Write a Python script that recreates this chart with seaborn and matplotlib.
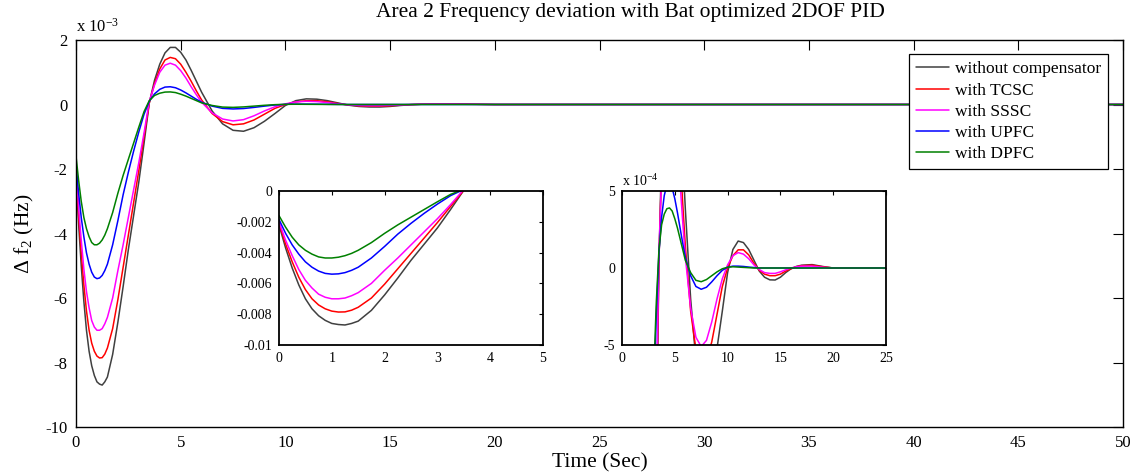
import numpy as np
import pandas as pd
import matplotlib
matplotlib.use("Agg")
import matplotlib.pyplot as plt
import seaborn as sns

# ---------------- data (frequency deviation in units of 1e-3 Hz) ----------------
time_s = [0, 0.125, 0.25, 0.375, 0.5, 0.625, 0.75, 0.875, 1.0, 1.125, 1.25, 1.375, 1.5,
          1.75, 2.0, 2.25, 2.5, 2.75, 3.0, 3.25, 3.5,
          3.75, 4.0, 4.25, 4.5, 4.75, 5.0, 5.25, 5.5, 5.75, 6.0,
          6.5, 7.0, 7.5, 8.0, 8.5, 9.0, 9.5, 10.0, 10.5, 11.0, 11.5, 12.0, 12.5, 13.0,
          13.5, 14.0, 14.5, 15.0, 15.5, 16.0, 16.5,
          17.0, 18.0, 19.0, 20.0, 25.0, 30.0, 40.0, 50.0]

without_comp = [-2.2, -3.7, -5.0, -6.1, -7.0, -7.65, -8.1, -8.4, -8.6, -8.67, -8.7, -8.6, -8.45,
                -7.75, -6.75, -5.65, -4.5, -3.45, -2.4, -1.2, 0.05,
                0.75, 1.25, 1.6, 1.77, 1.77, 1.62, 1.38, 1.06, 0.72, 0.38,
                -0.2, -0.6, -0.8, -0.83, -0.72, -0.52, -0.28, -0.03, 0.12, 0.175, 0.165, 0.12, 0.05, -0.02,
                -0.06, -0.077, -0.078, -0.06, -0.03, -0.005, 0.01,
                0.018, 0.022, 0.01, 0.0, 0.0, 0.0, 0.0, 0.0]

with_tcsc = [-2.1, -3.45, -4.6, -5.6, -6.4, -7.0, -7.4, -7.65, -7.8, -7.86, -7.85, -7.74, -7.55,
             -6.95, -6.05, -5.05, -4.05, -3.05, -2.05, -1.0, 0.05,
             0.65, 1.1, 1.38, 1.46, 1.42, 1.25, 1.0, 0.72, 0.42, 0.14,
             -0.28, -0.53, -0.63, -0.6, -0.48, -0.3, -0.12, 0.0, 0.08, 0.118, 0.118, 0.085, 0.03, -0.015,
             -0.04, -0.05, -0.05, -0.04, -0.02, -0.005, 0.008,
             0.015, 0.018, 0.008, 0.0, 0.0, 0.0, 0.0, 0.0]

with_sssc = [-2.0, -3.2, -4.2, -5.1, -5.8, -6.3, -6.7, -6.9, -7.0, -7.0, -6.95, -6.8, -6.6,
             -6.0, -5.15, -4.35, -3.5, -2.65, -1.8, -0.88, 0.1,
             0.6, 1.0, 1.22, 1.28, 1.22, 1.05, 0.82, 0.55, 0.3, 0.07,
             -0.26, -0.45, -0.51, -0.47, -0.35, -0.2, -0.07, 0.02, 0.08, 0.1, 0.09, 0.06, 0.02, -0.01,
             -0.03, -0.035, -0.035, -0.025, -0.012, 0.0, 0.008,
             0.012, 0.012, 0.005, 0.0, 0.0, 0.0, 0.0, 0.0]

with_upfc = [-1.85, -2.75, -3.5, -4.1, -4.6, -4.95, -5.2, -5.35, -5.4, -5.38, -5.3, -5.15, -4.95,
             -4.35, -3.6, -2.8, -2.1, -1.45, -0.85, -0.3, 0.1,
             0.33, 0.47, 0.54, 0.55, 0.52, 0.45, 0.36, 0.26, 0.16, 0.07,
             -0.05, -0.12, -0.138, -0.125, -0.09, -0.05, -0.015, 0.005, 0.012, 0.012, 0.01, 0.006, 0.003, 0.0,
             0.0, 0.0, 0.0, 0.0, 0.0, 0.0, 0.0,
             0.0, 0.0, 0.0, 0.0, 0.0, 0.0, 0.0, 0.0]

with_dpfc = [-1.6, -2.35, -3.0, -3.5, -3.85, -4.1, -4.28, -4.35, -4.35, -4.3, -4.2, -4.05, -3.85,
             -3.35, -2.75, -2.2, -1.7, -1.2, -0.7, -0.22, 0.12,
             0.28, 0.35, 0.385, 0.39, 0.37, 0.32, 0.26, 0.19, 0.12, 0.05,
             -0.03, -0.08, -0.089, -0.075, -0.05, -0.025, -0.005, 0.005, 0.008, 0.006, 0.004, 0.002, 0.0, 0.0,
             0.0, 0.0, 0.0, 0.0, 0.0, 0.0, 0.0,
             0.0, 0.0, 0.0, 0.0, 0.0, 0.0, 0.0, 0.0]

series_names = ["without compensator", "with TCSC", "with SSSC", "with UPFC", "with DPFC"]
series_colors = ["#404040", "#ff0000", "#ff00ff", "#0000ff", "#008000"]

main_xticks = [0, 5, 10, 15, 20, 25, 30, 35, 40, 45, 50]
main_yticks = [-10, -8, -6, -4, -2, 0, 2]
inset1_xticks = [0, 1, 2, 3, 4, 5]
inset1_yticks = [-0.01, -0.008, -0.006, -0.004, -0.002, 0]
inset1_ylabels = ["-0.01", "-0.008", "-0.006", "-0.004", "-0.002", "0"]
inset2_xticks = [0, 5, 10, 15, 20, 25]
inset2_yticks = [-5, 0, 5]

# ---------------- long-form table ----------------
frames = []
for name, vals in zip(series_names, [without_comp, with_tcsc, with_sssc, with_upfc, with_dpfc]):
    frames.append(pd.DataFrame({"t": time_s, "v": vals, "series": name}))
df = pd.concat(frames, ignore_index=True)
df["v_hz"] = df["v"] * 1e-3      # absolute Hz (inset 1)
df["v_e4"] = df["v"] * 10.0      # units of 1e-4 (inset 2)

# ---------------- style ----------------
sns.set_theme(style="white")
plt.rcParams["font.family"] = ["Liberation Serif", "DejaVu Serif"]
plt.rcParams["mathtext.fontset"] = "custom"
plt.rcParams["mathtext.rm"] = "Liberation Serif"
plt.rcParams["mathtext.it"] = "Liberation Serif:italic"
plt.rcParams["mathtext.default"] = "regular"
plt.rcParams["axes.unicode_minus"] = False
plt.rcParams["text.color"] = "black"
plt.rcParams["axes.labelcolor"] = "black"
plt.rcParams["xtick.color"] = "black"
plt.rcParams["ytick.color"] = "black"

W, H = 1137, 473
fig = plt.figure(figsize=(W / 100, H / 100), dpi=100)
fig.patch.set_facecolor("white")

palette = dict(zip(series_names, series_colors))


def style_axes(a, lw, ticklen, labelsize, pad):
    for s in a.spines.values():
        s.set_color("black")
        s.set_linewidth(lw)
    a.tick_params(direction="in", top=True, right=True, length=ticklen, width=0.8,
                  labelsize=labelsize, pad=pad, colors="black")
    a.set_xlabel("")
    a.set_ylabel("")


# ---------------- main axes ----------------
ax = fig.add_axes([76 / W, 1 - 427 / H, (1123 - 76) / W, (427 - 40) / H])
sns.lineplot(data=df, x="t", y="v", hue="series", hue_order=series_names, palette=palette,
             estimator=None, errorbar=None, legend=False, linewidth=1.1, ax=ax)
ax.set_xlim(0, 50)
ax.set_ylim(-10, 2)
ax.set_xticks(main_xticks)
ax.set_yticks(main_yticks)
style_axes(ax, 1.0, 7, 12, 6)
ax.text(0, 1.012, r"x 10$^{-3}$", transform=ax.transAxes, fontsize=12, ha="left", va="bottom")

ax.set_xlabel("Time (Sec)", fontsize=15.5)
ax.xaxis.set_label_coords(0.5, -0.093)
ax.xaxis.label.set_va("center")
ax.set_ylabel(r"$\Delta$ f$_{2}$ (Hz)", fontsize=15.5)
ax.yaxis.set_label_coords(-0.049, 0.5)
ax.yaxis.label.set_va("center")

fig.text(630 / W, 1 - 13 / H, "Area 2 Frequency deviation with Bat optimized 2DOF PID",
         ha="center", va="center", fontsize=15.5)

handles = ax.get_lines()[:5]
leg = ax.legend(handles, series_names, loc="upper right",
                bbox_to_anchor=(1108 / W, 1 - 54 / H), bbox_transform=fig.transFigure,
                frameon=True, fancybox=False, framealpha=1, edgecolor="black",
                fontsize=12.5, handlelength=1.9, handletextpad=0.3, labelspacing=0.29,
                borderpad=0.42, borderaxespad=0)
leg.get_frame().set_linewidth(0.9)

# ---------------- inset 1 (0-5 s) ----------------
ax1 = fig.add_axes([279 / W, 1 - 345 / H, 264 / W, 154 / H])
sns.lineplot(data=df, x="t", y="v_hz", hue="series", hue_order=series_names, palette=palette,
             estimator=None, errorbar=None, legend=False, linewidth=1.1, ax=ax1)
ax1.set_xlim(0, 5)
ax1.set_ylim(-0.01, 0)
ax1.set_xticks(inset1_xticks)
ax1.set_yticks(inset1_yticks)
ax1.set_yticklabels(inset1_ylabels)
style_axes(ax1, 1.3, 3, 10, 5)

# ---------------- inset 2 (0-25 s, x 1e-4) ----------------
ax2 = fig.add_axes([622 / W, 1 - 345 / H, 264 / W, 154 / H])
sns.lineplot(data=df, x="t", y="v_e4", hue="series", hue_order=series_names, palette=palette,
             estimator=None, errorbar=None, legend=False, linewidth=1.1, ax=ax2)
ax2.set_xlim(0, 25)
ax2.set_ylim(-5, 5)
ax2.set_xticks(inset2_xticks)
ax2.set_yticks(inset2_yticks)
style_axes(ax2, 1.3, 3, 10, 5)
ax2.text(0, 1.01, r"x 10$^{-4}$", transform=ax2.transAxes, fontsize=10, ha="left", va="bottom")

fig.savefig("out.png", dpi=100, facecolor="white")
